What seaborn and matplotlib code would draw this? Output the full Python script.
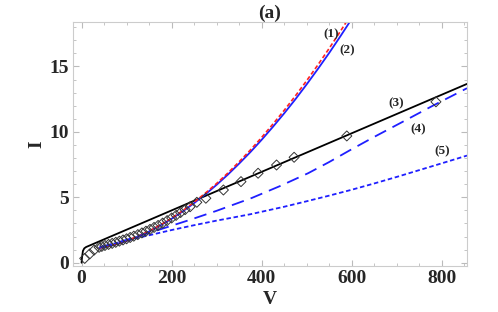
import matplotlib
matplotlib.use("Agg")
import matplotlib.pyplot as plt
import seaborn as sns

# curve (1) red dashed and (2) blue solid
v_12 = [40, 60, 80, 100, 125, 150, 175, 200, 225, 250, 275, 300, 325, 350,
        375, 400, 425, 450, 475, 500, 525, 550, 575, 600]
i_1 = [1.12, 1.27, 1.45, 1.68, 2.02, 2.42, 2.89, 3.41, 3.99, 4.63, 5.32, 6.06,
       6.86, 7.72, 8.62, 9.58, 10.6, 11.65, 12.76, 13.92, 15.13, 16.39, 17.70, 19.06]
i_2 = [1.12, 1.26, 1.44, 1.66, 2.00, 2.39, 2.85, 3.36, 3.93, 4.56, 5.23, 5.96,
       6.74, 7.58, 8.46, 9.40, 10.39, 11.42, 12.50, 13.64, 14.82, 16.04, 17.32, 18.64]

# curve (3) black solid
v_3 = [0, 1, 3, 6, 10, 856]
i_3 = [0.0, 0.4, 0.9, 1.1, 1.2, 13.67]

# curve (4) blue long dashes
v_4 = [40, 100, 150, 200, 240, 300, 378, 440, 503, 550, 596, 650, 707, 780, 856]
i_4 = [1.15, 1.75, 2.28, 2.83, 3.27, 3.97, 4.95, 5.85, 6.84, 7.70, 8.60, 9.62,
       10.66, 12.0, 13.34]

# curve (5) blue short dashes
v_5 = [40, 100, 150, 200, 250, 300, 374, 450, 500, 550, 600, 650, 700, 750, 800, 856]
i_5 = [1.2, 1.7, 2.1, 2.5, 2.87, 3.22, 3.7, 4.28, 4.7, 5.13, 5.58, 6.06, 6.56,
       7.08, 7.6, 8.19]

# measured points (diamonds)
v_exp = [7, 18, 28, 39, 45, 52, 60, 68, 76, 84, 92, 100, 108, 116, 125, 134, 143,
         152, 161, 170, 180, 190, 200, 210, 220, 230, 241, 256, 276, 315, 354,
         392, 433, 472, 589, 787]
i_exp = [0.33, 0.67, 0.97, 1.18, 1.25, 1.32, 1.40, 1.48, 1.56, 1.65, 1.74, 1.83,
         1.93, 2.03, 2.15, 2.28, 2.41, 2.55, 2.70, 2.85, 3.03, 3.22, 3.42, 3.62,
         3.84, 4.06, 4.28, 4.62, 4.93, 5.56, 6.20, 6.84, 7.47, 8.06, 9.69, 12.30]

labels = ["(1)", "(2)", "(3)", "(4)", "(5)"]
label_v = [554, 590, 698, 748, 800]
label_i = [17.47, 16.2, 12.2, 10.2, 8.49]

sns.set_style("ticks")
plt.rcParams['font.family'] = ['Liberation Serif', 'DejaVu Serif']
plt.rcParams['font.weight'] = 'bold'

fig = plt.figure(figsize=(4.98, 3.12), dpi=100)
ax = fig.add_axes([0.1466, 0.1474, 0.7912, 0.7821])

sns.lineplot(x=v_3, y=i_3, ax=ax, color="black", linewidth=1.3, sort=False)
sns.lineplot(x=v_12, y=i_2, ax=ax, color="#1f1fff", linewidth=1.3)
sns.lineplot(x=v_12, y=i_1, ax=ax, color="#ff2020", linewidth=1.2,
             linestyle=(0, (2.5, 1.5)))
sns.lineplot(x=v_4, y=i_4, ax=ax, color="#1f1fff", linewidth=1.3,
             linestyle=(0, (7, 4)))
sns.lineplot(x=v_5, y=i_5, ax=ax, color="#1f1fff", linewidth=1.3,
             linestyle=(0, (2.5, 1.5)))
sns.scatterplot(x=v_exp, y=i_exp, ax=ax, marker="D", s=26, facecolor="none",
                edgecolor="#333333", linewidth=0.7, zorder=3)

for t, x, y in zip(labels, label_v, label_i):
    ax.text(x, y, t, fontsize=9.5, fontweight="bold", ha="center", va="center")

ax.set_xlim(-19, 856)
ax.set_ylim(-0.25, 18.4)
ax.set_xticks([0, 200, 400, 600, 800])
ax.set_yticks([0, 5, 10, 15])
ax.set_xticks(range(0, 851, 50), minor=True)
ax.set_yticks(range(0, 19), minor=True)
ax.tick_params(which="both", direction="in", top=True, right=True,
               color="#bbbbbb", labelsize=14, pad=3)
ax.tick_params(which="major", length=4, width=0.8)
ax.tick_params(which="minor", length=2, width=0.6)
for lab in ax.get_xticklabels() + ax.get_yticklabels():
    lab.set_fontweight("bold")
for s in ax.spines.values():
    s.set_color("#cccccc")
    s.set_linewidth(0.8)

ax.set_xlabel("V", fontsize=14, fontweight="bold", labelpad=3)
ax.set_ylabel("I", fontsize=14, fontweight="bold", labelpad=3)
ax.set_title("(a)", fontsize=14, fontweight="bold", pad=2)

fig.savefig("out.png", dpi=100)
